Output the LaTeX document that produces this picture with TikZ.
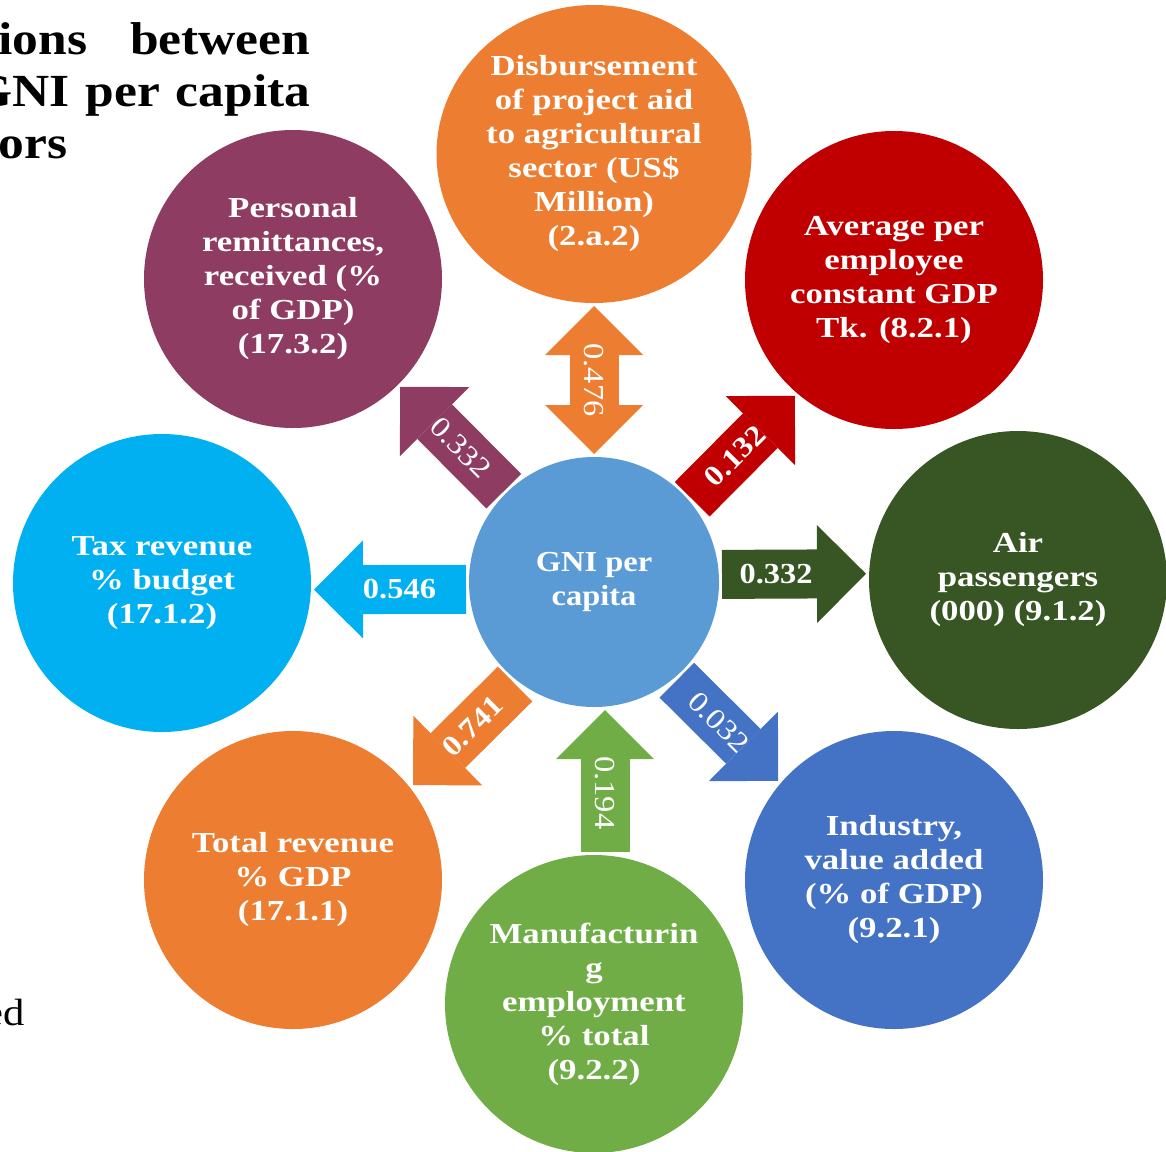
\documentclass[tikz,border=0pt]{standalone}
\usepackage{fontspec}
\setmainfont{Liberation Serif}[FakeStretch=1.12]
\newfontfamily\bubblefont{Liberation Serif}[FakeStretch=1.2]
\usepackage{tikz}
\usetikzlibrary{shapes.geometric, arrows.meta, positioning}
\definecolor{gniblue}{RGB}{91, 155, 213}
\definecolor{aidorange}{RGB}{237, 125, 49}
\definecolor{wagered}{RGB}{192, 0, 0}
\definecolor{airgreen}{RGB}{55, 86, 35}
\definecolor{industryblue}{RGB}{68, 114, 196}
\definecolor{mfggreen}{RGB}{112, 173, 71}
\definecolor{taxblue}{RGB}{0, 176, 240}
\definecolor{remitplum}{RGB}{143, 60, 98}

\begin{document}
\begin{tikzpicture}[
    x=0.5pt, y=-0.5pt,
    >={Triangle[length=24.5pt, width=49pt, line width=0pt]},
    bubble/.style={circle, minimum size=149pt, inner sep=0pt, outer sep=0pt, align=center, text=white, font=\bubblefont\fontsize{14.5}{17}\selectfont\bfseries},
    hub/.style={bubble, minimum size=125pt, fill=gniblue, font=\fontsize{14.5}{17}\selectfont\bfseries},
    oval/.style={bubble, ellipse, minimum width=157.5pt, minimum height=149pt},
    link/.style={line width=24.5pt, ->, shorten <=1.5pt, shorten >=1.5pt},
    coef/.style={sloped, text=white, inner sep=0pt, font=\fontsize{14.5}{17}\selectfont\bfseries},
    coefthin/.style={coef, font=\fontsize{14.5}{17}\selectfont},
    heading/.style={text width=156pt, align=left, inner sep=0pt, font=\fontsize{23}{26}\selectfont\bfseries}
]
    \useasboundingbox (0,0) rectangle (1166,1151);

    % Nodes
    \node [heading, anchor=north west] (heading) at (-2,22) {ions\hfill between\\\hspace*{-13pt}GNI\hfill per\hfill capita\\ors};
    \node [font=\fontsize{19}{22}\selectfont, anchor=base east, inner sep=0pt] (fragment) at (25,1025) {ed};

    \node [hub] (gni) at (594,582) {GNI per\\capita};
    \node [oval, fill=aidorange] (aid) at (594,154) {Disbursement\\of project aid\\to agricultural\\sector (US\$\\Million)\\(2.a.2)};
    \node [bubble, fill=wagered] (wage) at (894,280) {Average per\\employee\\constant GDP\\Tk. (8.2.1)};
    \node [bubble, fill=airgreen] (air) at (1018,580) {Air\\passengers\\(000) (9.1.2)};
    \node [bubble, fill=industryblue] (industry) at (894,880) {Industry,\\value added\\(\% of GDP)\\(9.2.1)};
    \node [bubble, fill=mfggreen] (mfg) at (594,1004) {Manufacturin\\g\\employment\\\% total\\(9.2.2)};
    \node [bubble, fill=aidorange] (revenue) at (293,880) {Total revenue\\\% GDP\\(17.1.1)};
    \node [bubble, fill=taxblue] (tax) at (162,583) {Tax revenue\\\% budget\\(17.1.2)};
    \node [bubble, fill=remitplum] (remit) at (293,279) {Personal\\remittances,\\received (\%\\of GDP)\\(17.3.2)};

    % Paths
    \draw [link, <->, aidorange] (aid) -- node[coefthin, pos=0.5] {0.476} (gni);
    \draw [link, remitplum] (gni) -- node[coefthin, pos=0.42] {0.332} (remit);
    \draw [link, wagered, transform canvas={xshift=4pt, yshift=-4pt}] (gni) -- node[coef, pos=0.42] {0.132} (wage);
    \draw [link, airgreen, transform canvas={yshift=3.5pt}] (gni) -- node[coef, pos=0.38] {0.332} (air);
    \draw [link, industryblue, transform canvas={xshift=-4pt, yshift=-4pt}] (gni) -- node[coefthin, pos=0.42] {0.032} (industry);
    \draw [link, <-, mfggreen, transform canvas={xshift=5.5pt}] (gni) -- node[coefthin, pos=0.58] {0.194} (mfg);
    \draw [link, aidorange, transform canvas={xshift=6pt, yshift=-6pt}] (gni) -- node[coef, pos=0.42] {0.741} (revenue);
    \draw [link, taxblue, transform canvas={yshift=-3.5pt}] (gni) -- node[coef, pos=0.44] {0.546} (tax);

\end{tikzpicture}
\end{document}
